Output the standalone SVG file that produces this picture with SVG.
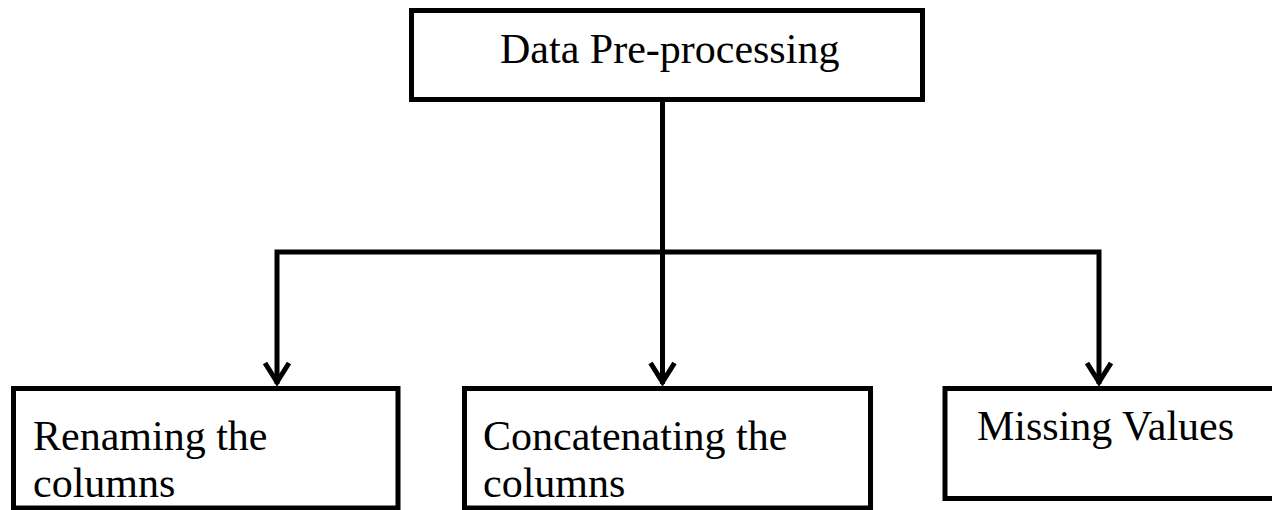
<svg xmlns="http://www.w3.org/2000/svg" width="1272" height="510" viewBox="0 0 1272 510">
<style>
.box{fill:#fff;stroke:#000;stroke-width:5}
.t{font-family:"Liberation Serif","Times New Roman",serif;font-size:42px;fill:#000}
.ln{fill:none;stroke:#000;stroke-width:5}
.ah{fill:none;stroke:#000;stroke-width:5;stroke-linejoin:miter;stroke-miterlimit:10}
</style>
<rect width="1272" height="510" fill="#fff"/>
<g id="connectors">
<line class="ln" x1="662.5" y1="100" x2="662.5" y2="384"/>
<polyline class="ln" points="277,384 277,252 1099,252 1099,384"/>
<polyline class="ah" points="265,363 277,382 289,363"/>
<polyline class="ah" points="650.5,363 662.5,382 674.5,363"/>
<polyline class="ah" points="1087,363 1099,382 1111,363"/>
</g>
<g id="node-top">
<rect class="box" x="411.5" y="10.5" width="511" height="89"/>
<text class="t" x="500" y="63">Data Pre-processing</text>
</g>
<g id="node-rename">
<rect class="box" x="13.5" y="388.5" width="384.5" height="119.5"/>
<text class="t" x="33" y="450">Renaming the</text>
<text class="t" x="33" y="497">columns</text>
</g>
<g id="node-concat">
<rect class="box" x="464.5" y="388.5" width="406" height="119.5"/>
<text class="t" x="483" y="450">Concatenating the</text>
<text class="t" x="483" y="497">columns</text>
</g>
<g id="node-missing">
<rect class="box" x="945" y="388.5" width="340" height="110"/>
<text class="t" x="977" y="440">Missing Values</text>
</g>
</svg>
